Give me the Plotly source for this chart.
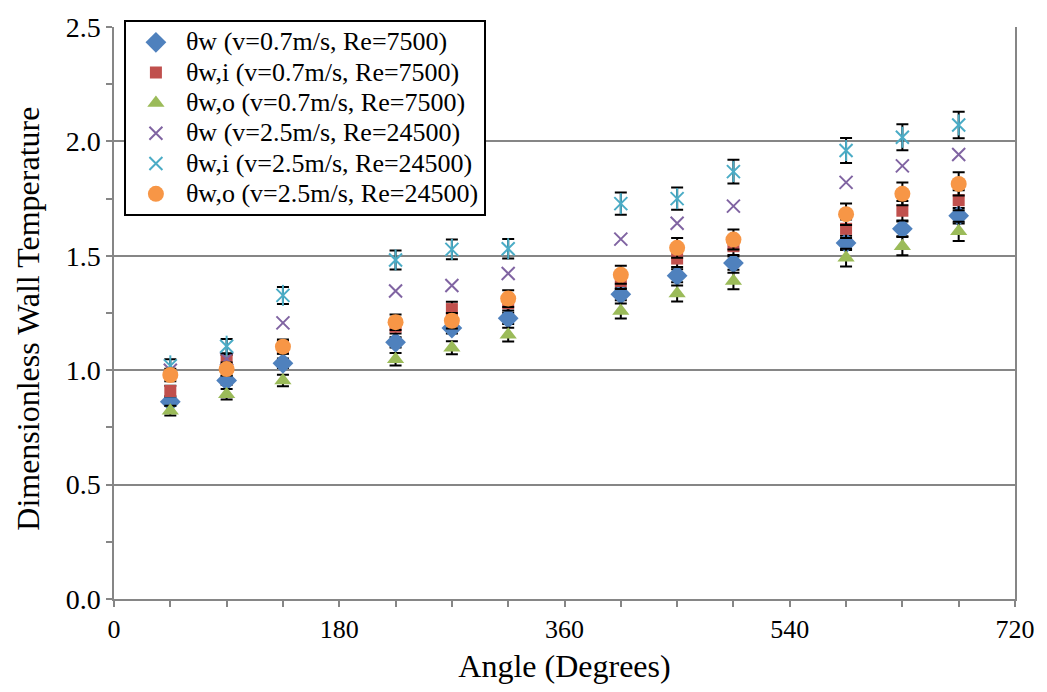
import plotly.graph_objects as go

angles = [45, 90, 135, 225, 270, 315, 405, 450, 495, 585, 630, 675]

tw_07 = [0.862, 0.955, 1.030, 1.122, 1.184, 1.227, 1.332, 1.413, 1.468, 1.556, 1.618, 1.675]
twi_07 = [0.909, 1.040, 1.100, 1.190, 1.267, 1.293, 1.390, 1.488, 1.542, 1.618, 1.697, 1.743]
two_07 = [0.823, 0.895, 0.955, 1.048, 1.098, 1.155, 1.259, 1.335, 1.390, 1.492, 1.542, 1.607]
tw_25 = [1.000, 1.050, 1.207, 1.346, 1.370, 1.423, 1.573, 1.642, 1.717, 1.821, 1.893, 1.943]
twi_25 = [1.019, 1.105, 1.327, 1.482, 1.528, 1.531, 1.728, 1.750, 1.868, 1.960, 2.018, 2.072]
two_25 = [0.979, 1.005, 1.103, 1.210, 1.216, 1.313, 1.417, 1.535, 1.571, 1.682, 1.771, 1.814]

# error bar sizes (percent of value)
err_pct = {"tw_07": 2.0, "twi_07": 2.5, "two_07": 2.6, "twi_25": 2.8, "two_25": 2.8}

names = [
    "θw (v=0.7m/s, Re=7500)",
    "θw,i (v=0.7m/s, Re=7500)",
    "θw,o (v=0.7m/s, Re=7500)",
    "θw (v=2.5m/s, Re=24500)",
    "θw,i (v=2.5m/s, Re=24500)",
    "θw,o (v=2.5m/s, Re=24500)",
]
x_title = "Angle (Degrees)"
y_title = "Dimensionless Wall Temperature"

FONT = "Liberation Serif, Times New Roman, serif"

def lg(t):
    return '<span style="font-size:26px">' + t + '</span>'

def eb(p):
    return dict(type="percent", value=p, color="black", thickness=2, width=6)

fig = go.Figure()
fig.add_trace(go.Scatter(x=angles, y=tw_07, mode="markers", name=lg(names[0]),
                         marker=dict(symbol="diamond", size=16, color="#4F81BD"),
                         error_y=eb(err_pct["tw_07"])))
fig.add_trace(go.Scatter(x=angles, y=twi_07, mode="markers", name=lg(names[1]),
                         marker=dict(symbol="square", size=12, color="#C0504D"),
                         error_y=eb(err_pct["twi_07"])))
fig.add_trace(go.Scatter(x=angles, y=two_07, mode="markers", name=lg(names[2]),
                         marker=dict(symbol="triangle-up", size=15, color="#9BBB59"),
                         error_y=eb(err_pct["two_07"])))
fig.add_trace(go.Scatter(x=angles, y=tw_25, mode="markers", name=lg(names[3]),
                         marker=dict(symbol="x-thin-open", size=13, color="#8064A2",
                                     line=dict(width=2, color="#8064A2"))))
fig.add_trace(go.Scatter(x=angles, y=twi_25, mode="markers", name=lg(names[4]),
                         legendgroup="twi25",
                         marker=dict(symbol="x-thin-open", size=13, color="#4BACC6",
                                     line=dict(width=2, color="#4BACC6")),
                         error_y=eb(err_pct["twi_25"])))
fig.add_trace(go.Scatter(x=angles, y=twi_25, mode="markers", showlegend=False,
                         legendgroup="twi25", hoverinfo="skip",
                         marker=dict(symbol="line-ns-open", size=15, color="#4BACC6",
                                     line=dict(width=2, color="#4BACC6"))))
fig.add_trace(go.Scatter(x=angles, y=two_25, mode="markers", name=lg(names[5]),
                         marker=dict(symbol="circle", size=16, color="#F79646"),
                         error_y=eb(err_pct["two_25"])))

fig.update_layout(
    width=1047, height=692,
    margin=dict(l=114, r=28, t=17, b=93),
    paper_bgcolor="white", plot_bgcolor="white",
    font=dict(family=FONT, size=26, color="black"),
    showlegend=True,
    legend=dict(x=0.011, y=1.012, xanchor="left", yanchor="top",
                bgcolor="white", bordercolor="black", borderwidth=2,
                font=dict(family=FONT, size=21), tracegroupgap=0,
                itemwidth=50),
    annotations=[dict(text=y_title, textangle=-90, xref="paper", yref="paper",
                      x=0, y=0.49, xanchor="center", yanchor="middle",
                      xshift=-86, showarrow=False,
                      font=dict(family=FONT, size=32, color="black"))],
)
fig.update_xaxes(
    range=[0, 720], tickvals=[0, 180, 360, 540, 720],
    showgrid=False, zeroline=False,
    showline=True, linecolor="#868686", linewidth=1.5,
    ticks="outside", ticklen=6, tickcolor="#868686", tickwidth=1.5,
    minor=dict(dtick=45, ticks="outside", ticklen=6, tickcolor="#868686", tickwidth=1.5, showgrid=False),
    title=dict(text=x_title, font=dict(family=FONT, size=32), standoff=12),
    tickfont=dict(family=FONT, size=26),
)
fig.update_yaxes(
    range=[0, 2.5], tickvals=[0, 0.5, 1.0, 1.5, 2.0, 2.5], tickformat=".1f",
    showgrid=True, gridcolor="#868686", gridwidth=1.5, zeroline=False,
    showline=True, linecolor="#868686", linewidth=1.5, mirror=True,
    ticks="outside", ticklen=6, tickcolor="#868686", tickwidth=1.5,
    minor=dict(dtick=0.25, ticks="outside", ticklen=6, tickcolor="#868686", tickwidth=1.5, showgrid=False),
    tickfont=dict(family=FONT, size=28),
)

fig.write_html("out.html")
